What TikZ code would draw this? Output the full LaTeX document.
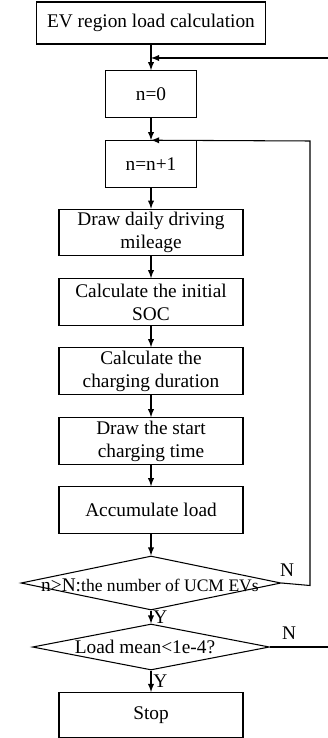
\documentclass[tikz,border=0pt]{standalone}
\usepackage{fontspec}
\setmainfont{Liberation Serif}
\usetikzlibrary{shapes.geometric}

\begin{document}
\begin{tikzpicture}[line width=0.6pt, >=latex,
        every node/.style={font=\fontsize{11}{13.2}\selectfont},
        box/.style={draw, rectangle, align=center, inner sep=1pt, minimum height=0.93cm},
        decision/.style={draw, diamond, inner sep=0pt}]
        \useasboundingbox (0,0) rectangle (6.56,-14.76);

        \node[box, minimum width=4.58cm, minimum height=0.84cm] (start) at (3.02,-0.46) {EV region load calculation};
        \node[box, minimum width=1.82cm] (init) at (3.02,-1.88) {n=0};
        \node[box, minimum width=1.82cm] (incr) at (3.02,-3.28) {n=n+1};
        \node[box, minimum width=3.68cm] (mile) at (3.02,-4.65) {Draw daily driving\\mileage};
        \node[box, minimum width=3.68cm] (soc) at (3.02,-6.04) {Calculate the initial\\SOC};
        \node[box, minimum width=3.68cm] (dur) at (3.02,-7.42) {Calculate the\\charging duration};
        \node[box, minimum width=3.68cm] (time) at (3.02,-8.82) {Draw the start\\charging time};
        \node[box, minimum width=3.68cm] (acc) at (3.02,-10.2) {Accumulate load};
        \node[decision, minimum width=5.2cm, minimum height=1.08cm] (chkN) at (3.02,-11.66) {};
        \node[inner sep=0pt] (chkNtext) at (3.0,-11.7) {n>N:{\fontsize{10}{12}\selectfont the number of UCM EVs}};
        \node[decision, minimum width=4.74cm, minimum height=0.92cm] (chkL) at (3.02,-12.94) {};
        \node[inner sep=0pt] (chkLtext) at (2.9,-12.94) {Load mean<1e-4?};
        \node[box, minimum width=3.68cm, minimum height=0.9cm] (stop) at (3.02,-14.3) {Stop};

        \coordinate (loopL) at (6.62,-1.16);
        \coordinate (loopN) at (6.2,-2.82);

        \draw[->] (start) -- (init);
        \draw[->] (init) -- (incr);
        \draw[->] (incr) -- (mile);
        \draw[->] (mile) -- (soc);
        \draw[->] (soc) -- (dur);
        \draw[->] (dur) -- (time);
        \draw[->] (time) -- (acc);
        \draw[->] (acc) -- (chkN);
        \draw[->] (chkN) -- (chkL) node[pos=0.55, right, inner sep=1pt] {Y};
        \draw[->] (chkL) -- (stop) node[pos=0.5, right, inner sep=1pt] {Y};

        \draw[->] (chkN.east) -- (loopN |- 0,-11.71) -- (loopN) -- (incr.north);
        \draw[->] (chkL.east) -- (loopL |- chkL.east) -- (loopL) -- (start.south |- loopL);
        \node (labN1) at (5.74,-11.4) {N};
        \node (labN2) at (5.78,-12.66) {N};
    \end{tikzpicture}
\end{document}
